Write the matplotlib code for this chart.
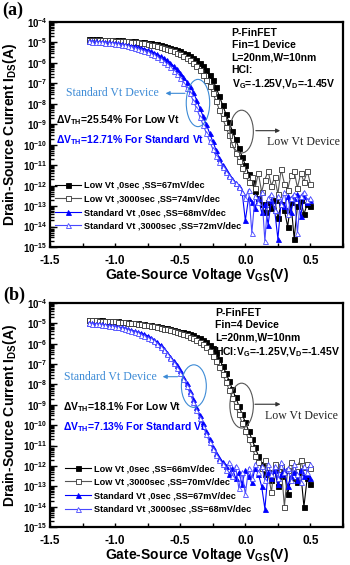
import matplotlib
matplotlib.use('Agg')
import matplotlib.pyplot as plt
from matplotlib.patches import Ellipse
from matplotlib.ticker import LogLocator, MultipleLocator, FuncFormatter, NullFormatter
import numpy as np

plt.rcParams['font.family'] = ['Liberation Sans', 'DejaVu Sans']
plt.rcParams['font.weight'] = 'bold'
plt.rcParams['mathtext.fontset'] = 'custom'
plt.rcParams['mathtext.rm'] = 'Liberation Sans:bold'
plt.rcParams['mathtext.bf'] = 'Liberation Sans:bold'
plt.rcParams['mathtext.it'] = 'Liberation Sans:bold'

# gate sweep, V
vgs = np.linspace(-1.2, 0.5, 69)

# log10(Ids), panel (a) Fin=1
lo0_a = [-4.84, -4.84, -4.85, -4.85, -4.86, -4.86, -4.87, -4.88, -4.88, -4.89,
         -4.90, -4.91, -4.92, -4.93, -4.94, -4.96, -4.97, -4.99, -5.01, -5.03,
         -5.06, -5.09, -5.12, -5.16, -5.20, -5.25, -5.30, -5.36, -5.42, -5.50,
         -5.58, -5.66, -5.75, -5.87, -6.00, -6.17, -6.35, -6.58, -6.85, -7.18,
         -7.62, -8.05, -8.48, -8.90, -9.32, -9.74, -10.16, -10.58, -11.00, -11.42,
         -11.84, -12.25, -12.60, -12.90, -13.30, -12.80, -13.10, -12.70, -13.60, -12.90,
         -13.20, -14.00, -12.80, -14.60, -13.00, -12.70, -13.40, -12.90, -13.00]
lo3_a = [-4.86, -4.86, -4.87, -4.87, -4.88, -4.89, -4.89, -4.90, -4.91, -4.92,
         -4.93, -4.94, -4.95, -4.97, -4.98, -5.00, -5.02, -5.04, -5.07, -5.10,
         -5.13, -5.17, -5.21, -5.26, -5.31, -5.37, -5.43, -5.50, -5.58, -5.67,
         -5.77, -5.88, -6.01, -6.17, -6.36, -6.58, -6.84, -7.14, -7.48, -7.86,
         -8.28, -8.70, -9.12, -9.54, -9.96, -10.38, -10.80, -11.15, -11.50, -11.80,
         -11.60, -12.10, -11.40, -12.30, -11.70, -11.30, -12.00, -11.60, -12.40, -11.20,
         -11.90, -12.20, -11.50, -11.30, -12.10, -11.40, -11.80, -11.30, -11.90]
sv0_a = [-4.93, -4.94, -4.95, -4.96, -4.97, -4.98, -5.00, -5.01, -5.03, -5.05,
         -5.07, -5.10, -5.13, -5.16, -5.19, -5.23, -5.27, -5.32, -5.37, -5.43,
         -5.50, -5.58, -5.67, -5.77, -5.88, -6.01, -6.15, -6.31, -6.49, -6.69,
         -6.91, -7.15, -7.42, -7.80, -8.20, -8.60, -9.00, -9.42, -9.84, -10.25,
         -10.65, -10.98, -11.25, -11.48, -11.68, -11.85, -12.00, -12.30, -13.70, -12.60,
         -12.80, -13.10, -12.60, -13.30, -12.90, -13.90, -12.70, -13.20, -14.60, -12.80,
         -13.00, -12.50, -13.30, -12.60, -12.40, -13.50, -12.50, -12.80, -12.70]
sv3_a = [-4.95, -4.96, -4.97, -4.98, -4.99, -5.01, -5.02, -5.04, -5.06, -5.08,
         -5.11, -5.14, -5.17, -5.21, -5.25, -5.30, -5.35, -5.41, -5.47, -5.55,
         -5.63, -5.72, -5.82, -5.94, -6.07, -6.22, -6.38, -6.56, -6.76, -6.98,
         -7.22, -7.49, -7.85, -8.22, -8.62, -9.02, -9.42, -9.82, -10.20, -10.55,
         -10.85, -11.10, -11.32, -11.52, -11.70, -11.88, -12.05, -12.30, -12.60, -12.20,
         -14.30, -12.50, -12.80, -12.30, -14.70, -12.60, -12.40, -13.20, -12.50, -12.90,
         -12.30, -13.40, -12.60, -12.40, -14.30, -12.50, -12.30, -12.70, -12.60]

# panel (b) Fin=4
lo0_b = [-4.82, -4.83, -4.83, -4.84, -4.85, -4.86, -4.87, -4.88, -4.89, -4.90,
         -4.92, -4.93, -4.95, -4.96, -4.98, -5.00, -5.02, -5.04, -5.07, -5.09,
         -5.12, -5.15, -5.18, -5.21, -5.25, -5.28, -5.32, -5.36, -5.40, -5.44,
         -5.49, -5.54, -5.59, -5.65, -5.72, -5.81, -5.92, -6.06, -6.23, -6.47,
         -6.75, -7.07, -7.42, -7.81, -8.22, -8.63, -9.04, -9.45, -9.86, -10.27,
         -10.68, -11.09, -11.50, -11.90, -12.40, -12.30, -12.70, -12.20, -13.00, -12.50,
         -12.30, -13.40, -12.60, -12.40, -12.80, -12.30, -14.00, -12.60, -12.90]
lo3_b = [-4.84, -4.84, -4.85, -4.86, -4.86, -4.87, -4.88, -4.89, -4.90, -4.91,
         -4.93, -4.94, -4.96, -4.98, -5.00, -5.02, -5.04, -5.07, -5.09, -5.12,
         -5.15, -5.19, -5.22, -5.26, -5.30, -5.34, -5.38, -5.43, -5.48, -5.53,
         -5.59, -5.65, -5.72, -5.80, -5.90, -6.02, -6.17, -6.36, -6.58, -6.85,
         -7.15, -7.49, -7.86, -8.25, -8.65, -9.06, -9.47, -9.88, -10.29, -10.70,
         -11.10, -11.50, -11.80, -12.10, -11.70, -12.30, -13.30, -11.90, -12.40, -12.00,
         -14.00, -12.20, -11.80, -12.50, -12.00, -11.70, -12.30, -11.90, -12.10]
sv0_b = [-4.98, -5.00, -5.01, -5.03, -5.05, -5.07, -5.09, -5.11, -5.14, -5.17,
         -5.20, -5.24, -5.30, -5.34, -5.38, -5.43, -5.48, -5.54, -5.61, -5.70,
         -5.80, -5.93, -6.07, -6.25, -6.45, -6.64, -6.84, -7.06, -7.30, -7.62,
         -7.95, -8.30, -8.70, -9.10, -9.50, -9.90, -10.30, -10.70, -11.05, -11.35,
         -11.60, -11.80, -12.00, -12.40, -12.10, -12.60, -12.30, -12.90, -12.20, -12.50,
         -12.80, -12.10, -12.40, -13.00, -14.10, -12.30, -12.60, -12.20, -12.90, -12.40,
         -12.20, -13.00, -12.50, -12.30, -12.70, -12.20, -12.50, -12.40, -12.60]
sv3_b = [-5.00, -5.01, -5.03, -5.05, -5.07, -5.09, -5.11, -5.14, -5.17, -5.20,
         -5.24, -5.28, -5.33, -5.38, -5.43, -5.49, -5.55, -5.62, -5.70, -5.79,
         -5.89, -6.01, -6.15, -6.31, -6.51, -6.72, -6.94, -7.18, -7.44, -7.74,
         -8.08, -8.44, -8.84, -9.24, -9.64, -10.04, -10.44, -10.82, -11.16, -11.45,
         -11.70, -11.90, -12.20, -11.80, -12.50, -12.00, -13.10, -12.30, -13.40, -12.10,
         -12.60, -11.90, -12.30, -12.00, -12.70, -11.90, -12.40, -12.00, -12.60, -11.80,
         -12.30, -12.10, -12.70, -11.90, -12.40, -12.80, -12.00, -12.30, -11.90]

labels_a = ['Low Vt ,0sec ,SS=67mV/dec', 'Low Vt ,3000sec ,SS=74mV/dec',
            'Standard Vt ,0sec ,SS=68mV/dec', 'Standard Vt ,3000sec ,SS=72mV/dec']
labels_b = ['Low Vt ,0sec ,SS=66mV/dec', 'Low Vt ,3000sec ,SS=70mV/dec',
            'Standard Vt ,0sec ,SS=67mV/dec', 'Standard Vt ,3000sec ,SS=68mV/dec']

info_a = 'P-FinFET\nFin=1 Device\nL=20nm,W=10nm\nHCI:\nV$_{G}$=-1.25V,V$_{D}$=-1.45V'
info_b = 'P-FinFET\nFin=4 Device\nL=20nm,W=10nm\nHCI:V$_{G}$=-1.25V,V$_{D}$=-1.45V'
dvt_a = ['$\\Delta$V$_{TH}$=25.54% For Low Vt', '$\\Delta$V$_{TH}$=12.71% For Standard Vt']
dvt_b = ['$\\Delta$V$_{TH}$=18.1% For Low Vt', '$\\Delta$V$_{TH}$=7.13% For Standard Vt']

styles = [dict(color='black', marker='s', mfc='black', mec='black'),
          dict(color='#555555', marker='s', mfc='white', mec='#333333'),
          dict(color='#0000ff', marker='^', mfc='#0000ff', mec='#0000ff'),
          dict(color='#4848ff', marker='^', mfc='white', mec='#4848ff')]

light_blue = '#3d8bd6'


def draw_panel(ax, curves, labels, info, dvt, pos):
    for ys, lab, st in zip(curves, labels, styles):
        ax.plot(vgs, 10.0 ** np.array(ys), lw=0.8, ms=3.6, mew=0.6, label=lab, **st)

    ax.set_yscale('log')
    ax.set_xlim(-1.5, 0.75)
    ax.set_ylim(1e-15, 1e-4)
    ax.yaxis.set_major_locator(LogLocator(base=10, numticks=20))
    ax.yaxis.set_minor_locator(LogLocator(base=10, subs=np.arange(2, 10), numticks=20))
    ax.yaxis.set_minor_formatter(NullFormatter())
    ax.yaxis.set_major_formatter(FuncFormatter(lambda v, p: r'$\mathbf{10^{%d}}$' % round(np.log10(v))))
    ax.xaxis.set_major_locator(MultipleLocator(0.5))
    ax.xaxis.set_minor_locator(MultipleLocator(0.25))
    ax.xaxis.set_major_formatter(FuncFormatter(lambda v, p: '%.1f' % v))
    ax.tick_params(axis='both', which='both', direction='in', width=1.0)
    ax.tick_params(axis='y', which='major', length=5, labelsize=7, pad=2)
    ax.tick_params(axis='y', which='minor', length=3)
    ax.tick_params(axis='x', which='both', length=3, labelsize=8.5, pad=6)
    for sp in ax.spines.values():
        sp.set_linewidth(1.6)

    ax.set_xlabel('Gate-Source Voltage V$_{GS}$(V)', fontsize=10, fontweight='bold')
    ax.set_ylabel('Drain-Source Current I$_{DS}$(A)', fontsize=10, fontweight='bold')
    ax.xaxis.label.set_va('center')
    ax.xaxis.set_label_coords(0.5, -0.124)
    ax.yaxis.set_label_coords(-0.105, 0.5)

    ax.text(pos['info'][0], pos['info'][1], info, transform=ax.transAxes, fontsize=7.5,
            fontweight='bold', va='top', ha='left', linespacing=1.3)
    ax.text(pos['dvt'][0], pos['dvt'][1], dvt[0], transform=ax.transAxes, fontsize=7.5,
            fontweight='bold', va='center', color='black')
    ax.text(pos['dvt'][0], pos['dvt'][2], dvt[1], transform=ax.transAxes, fontsize=7.5,
            fontweight='bold', va='center', color='#0000ff')

    # standard Vt callout
    ex, ey, ew, eh = pos['ell_sv']
    ax.add_patch(Ellipse((ex, ey), ew, eh, transform=ax.transAxes, fill=False,
                         ec=light_blue, lw=0.8, zorder=5))
    ax.annotate('', xy=(pos['arr_sv'][1], pos['arr_sv'][2]), xytext=(pos['arr_sv'][0], pos['arr_sv'][2]),
                xycoords='axes fraction', arrowprops=dict(arrowstyle='-|>', color=light_blue, lw=0.8,
                                                          mutation_scale=6))
    ax.text(pos['txt_sv'][0], pos['txt_sv'][1], 'Standard Vt Device', transform=ax.transAxes,
            family='Liberation Serif', fontweight='normal', fontsize=8.5, color=light_blue,
            ha='right', va='center')

    # low Vt callout
    ex, ey, ew, eh = pos['ell_lv']
    ax.add_patch(Ellipse((ex, ey), ew, eh, transform=ax.transAxes, fill=False,
                         ec='#555555', lw=0.8, zorder=5))
    ax.annotate('', xy=(pos['arr_lv'][1], pos['arr_lv'][2]), xytext=(pos['arr_lv'][0], pos['arr_lv'][2]),
                xycoords='axes fraction', arrowprops=dict(arrowstyle='-|>', color='#333333', lw=0.8,
                                                          mutation_scale=6))
    ax.text(pos['txt_lv'][0], pos['txt_lv'][1], 'Low Vt Device', transform=ax.transAxes,
            family='Liberation Serif', fontweight='normal', fontsize=8.5, color='#222222',
            ha='left', va='center')

    ax.legend(loc='upper left', bbox_to_anchor=pos['leg'], frameon=False,
              handlelength=2.8, handletextpad=0.4, labelspacing=0.5, borderpad=0,
              borderaxespad=0, numpoints=1, prop={'weight': 'bold', 'size': 6.6})


fig = plt.figure(figsize=(3.5, 5.65), dpi=100)
ax1 = fig.add_axes([50 / 350, 1 - 247 / 565, 293 / 350, 225 / 565])
ax2 = fig.add_axes([50 / 350, 1 - 527 / 565, 293 / 350, 224 / 565])

pos_a = dict(info=(0.62, 0.975), dvt=(0.02, 0.564, 0.476),
             ell_sv=(0.505, 0.64, 0.08, 0.21), arr_sv=(0.47, 0.385, 0.683), txt_sv=(0.37, 0.683),
             ell_lv=(0.654, 0.513, 0.08, 0.19), arr_lv=(0.693, 0.795, 0.517), txt_lv=(0.74, 0.468),
             leg=(0.017, 0.294))
pos_b = dict(info=(0.563, 0.978), dvt=(0.044, 0.537, 0.448),
             ell_sv=(0.491, 0.629, 0.085, 0.19), arr_sv=(0.445, 0.375, 0.671), txt_sv=(0.365, 0.67),
             ell_lv=(0.654, 0.542, 0.08, 0.2), arr_lv=(0.69, 0.796, 0.548), txt_lv=(0.734, 0.496),
             leg=(0.051, 0.281))

draw_panel(ax1, [lo0_a, lo3_a, sv0_a, sv3_a], labels_a, info_a, dvt_a, pos_a)
draw_panel(ax2, [lo0_b, lo3_b, sv0_b, sv3_b], labels_b, info_b, dvt_b, pos_b)

fig.text(2 / 350, 1 - 10 / 565, '(a)', family='Liberation Serif', fontweight='bold', fontsize=13,
         va='center', ha='left')
fig.text(3 / 350, 1 - 295 / 565, '(b)', family='Liberation Serif', fontweight='bold', fontsize=13,
         va='center', ha='left')

fig.savefig('out.png', dpi=100)
